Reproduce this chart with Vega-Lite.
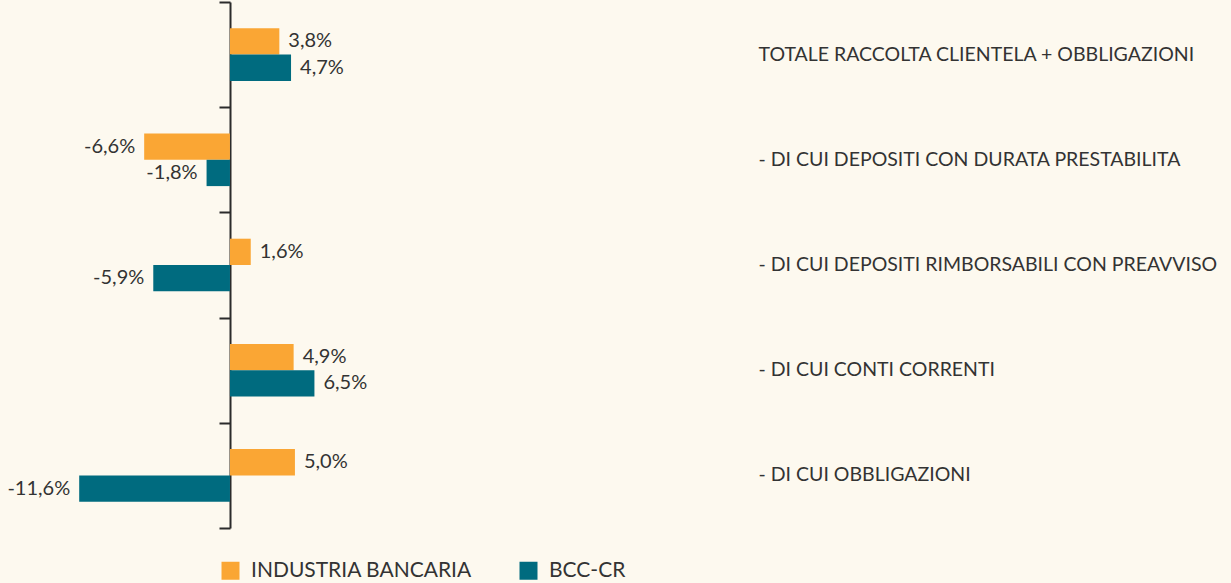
{
  "$schema": "https://vega.github.io/schema/vega-lite/v6.json",
  "autosize": {"type": "none"},
  "width": 681,
  "height": 526,
  "padding": {"left": 74, "top": 2, "right": 476, "bottom": 55},
  "background": "#FDF9EF",
  "config": {"view": {"stroke": null}, "font": "Lato"},
  "data": {"values": [
    {"cat": "TOTALE RACCOLTA CLIENTELA + OBBLIGAZIONI", "series": "INDUSTRIA BANCARIA", "value": 3.8, "label": "3,8%"},
    {"cat": "TOTALE RACCOLTA CLIENTELA + OBBLIGAZIONI", "series": "BCC-CR", "value": 4.7, "label": "4,7%"},
    {"cat": "- DI CUI DEPOSITI CON DURATA PRESTABILITA", "series": "INDUSTRIA BANCARIA", "value": -6.6, "label": "-6,6%"},
    {"cat": "- DI CUI DEPOSITI CON DURATA PRESTABILITA", "series": "BCC-CR", "value": -1.8, "label": "-1,8%"},
    {"cat": "- DI CUI DEPOSITI RIMBORSABILI CON PREAVVISO", "series": "INDUSTRIA BANCARIA", "value": 1.6, "label": "1,6%"},
    {"cat": "- DI CUI DEPOSITI RIMBORSABILI CON PREAVVISO", "series": "BCC-CR", "value": -5.9, "label": "-5,9%"},
    {"cat": "- DI CUI CONTI CORRENTI", "series": "INDUSTRIA BANCARIA", "value": 4.9, "label": "4,9%"},
    {"cat": "- DI CUI CONTI CORRENTI", "series": "BCC-CR", "value": 6.5, "label": "6,5%"},
    {"cat": "- DI CUI OBBLIGAZIONI", "series": "INDUSTRIA BANCARIA", "value": 5.0, "label": "5,0%"},
    {"cat": "- DI CUI OBBLIGAZIONI", "series": "BCC-CR", "value": -11.6, "label": "-11,6%"}
  ]},
  "encoding": {
    "y": {"field": "cat", "type": "nominal",
      "sort": ["TOTALE RACCOLTA CLIENTELA + OBBLIGAZIONI", "- DI CUI DEPOSITI CON DURATA PRESTABILITA", "- DI CUI DEPOSITI RIMBORSABILI CON PREAVVISO", "- DI CUI CONTI CORRENTI", "- DI CUI OBBLIGAZIONI"],
      "scale": {"paddingInner": 0, "paddingOuter": 0}},
    "yOffset": {"field": "series", "type": "nominal", "sort": ["INDUSTRIA BANCARIA", "BCC-CR"],
      "scale": {"paddingInner": 0, "paddingOuter": 1.3}},
    "x": {"field": "value", "type": "quantitative",
      "scale": {"domain": [-12, 40.4], "nice": false, "zero": false}, "axis": null}
  },
  "layer": [
    {
      "mark": {"type": "bar"},
      "encoding": {
        "color": {"field": "series", "type": "nominal",
          "scale": {"domain": ["INDUSTRIA BANCARIA", "BCC-CR"], "range": ["#FAA634", "#006B7F"]},
          "legend": {"title": null, "orient": "none", "legendX": 146, "legendY": 558, "direction": "horizontal",
            "symbolType": "square", "symbolSize": 324, "symbolStrokeWidth": 0, "symbolOpacity": 1,
            "labelFontSize": 21, "labelColor": "#333333", "labelOffset": 10, "columnPadding": 46, "labelFont": "Lato", "labelLimit": 400}},
        "y": {"field": "cat", "type": "nominal",
          "sort": ["TOTALE RACCOLTA CLIENTELA + OBBLIGAZIONI", "- DI CUI DEPOSITI CON DURATA PRESTABILITA", "- DI CUI DEPOSITI RIMBORSABILI CON PREAVVISO", "- DI CUI CONTI CORRENTI", "- DI CUI OBBLIGAZIONI"],
          "axis": {"orient": "left", "offset": -156, "title": null, "labels": false, "tickBand": "extent",
            "ticks": true, "tickSize": 11, "tickWidth": 2, "tickColor": "#2B2B2B",
            "domain": true, "domainWidth": 2, "domainColor": "#2B2B2B", "grid": false}}
      }
    },
    {
      "transform": [{"filter": "datum.value >= 0"}],
      "mark": {"type": "text", "align": "left", "dx": 9, "fontSize": 20, "color": "#333333", "baseline": "middle"},
      "encoding": {
        "text": {"field": "label"},
        "y": {"field": "cat", "type": "nominal",
          "sort": ["TOTALE RACCOLTA CLIENTELA + OBBLIGAZIONI", "- DI CUI DEPOSITI CON DURATA PRESTABILITA", "- DI CUI DEPOSITI RIMBORSABILI CON PREAVVISO", "- DI CUI CONTI CORRENTI", "- DI CUI OBBLIGAZIONI"],
          "axis": {"orient": "right", "title": null, "ticks": false, "domain": false, "grid": false,
            "labelAlign": "left", "labelPadding": 3, "labelFontSize": 19.5, "labelColor": "#333333", "labelFont": "Lato", "labelLimit": 600}}
      }
    },
    {
      "transform": [{"filter": "datum.value < 0"}],
      "mark": {"type": "text", "align": "right", "dx": -9, "fontSize": 20, "color": "#333333", "baseline": "middle"},
      "encoding": {
        "text": {"field": "label"},
        "y": {"field": "cat", "type": "nominal",
          "sort": ["TOTALE RACCOLTA CLIENTELA + OBBLIGAZIONI", "- DI CUI DEPOSITI CON DURATA PRESTABILITA", "- DI CUI DEPOSITI RIMBORSABILI CON PREAVVISO", "- DI CUI CONTI CORRENTI", "- DI CUI OBBLIGAZIONI"],
          "axis": null}
      }
    }
  ],
  "resolve": {"axis": {"y": "independent"}}
}
